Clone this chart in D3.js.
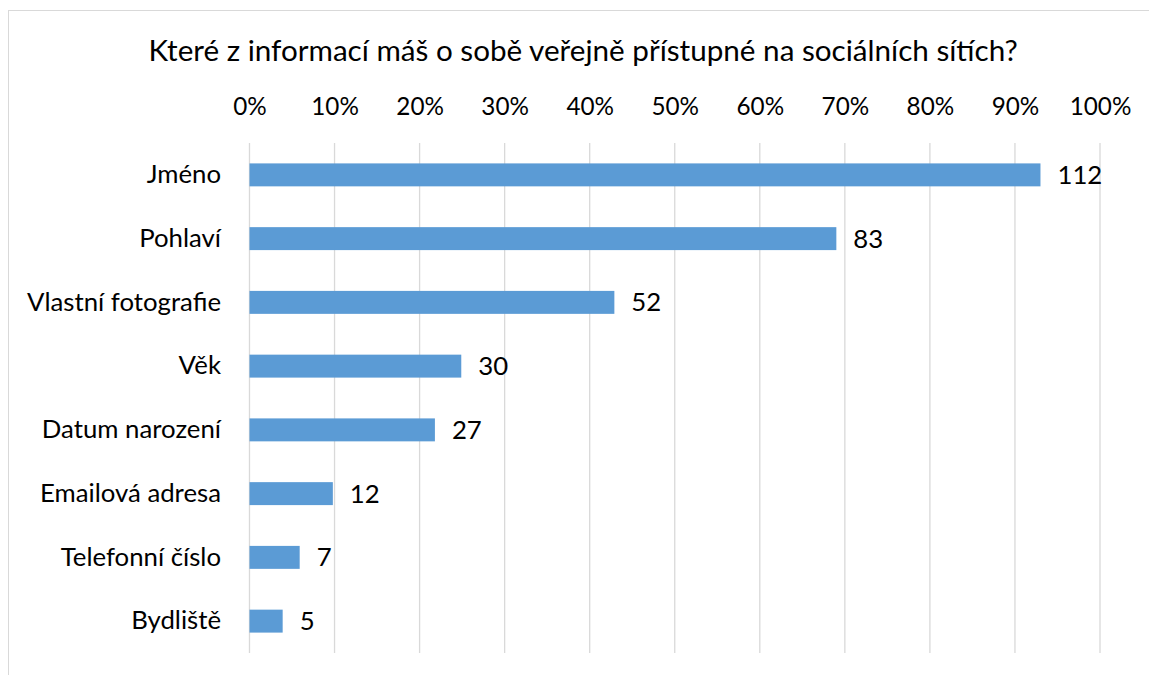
<!DOCTYPE html>
<html>
<head>
<meta charset="utf-8">
<script src="https://cdnjs.cloudflare.com/ajax/libs/d3/7.8.5/d3.min.js"></script>
<style>
  body { margin: 0; background: #fff; }
</style>
</head>
<body>
<div id="chart"></div>
<script>
var title = "Které z informací máš o sobě veřejně přístupné na sociálních sítích?"
var categories = ["Jméno", "Pohlaví", "Vlastní fotografie", "Věk", "Datum narození", "Emailová adresa", "Telefonní číslo", "Bydliště"]
// counts shown as labels, bar lengths are the shares
var counts = [112, 83, 52, 30, 27, 12, 7, 5]
var shares = [0.930, 0.690, 0.429, 0.249, 0.218, 0.098, 0.059, 0.039]
var tickValues = [0, 0.1, 0.2, 0.3, 0.4, 0.5, 0.6, 0.7, 0.8, 0.9, 1]

var width = 1149, height = 675
var FONT = "Lato, 'Open Sans', sans-serif"

var svg = d3.select("#chart")
  .append("svg")
  .attr("width", width)
  .attr("height", height)

svg.append("rect")
  .attr("width", width).attr("height", height)
  .attr("fill", "#fff")

// chart border (right and bottom edges run off the picture)
svg.append("rect")
  .attr("x", 8.5).attr("y", 10.5)
  .attr("width", 1200).attr("height", 700)
  .attr("fill", "none")
  .attr("stroke", "#d9d9d9")
  .attr("stroke-width", 1)

// font size that makes a string a given width
function fitSize(txt, target) {
  var t = svg.append("text").style("font-family", FONT).style("font-size", "100px").text(txt)
  var w = t.node().getComputedTextLength()
  t.remove()
  return 100 * target / w
}

var titleSize = fitSize(title, 870)
var labelSize = fitSize("Vlastní fotografie", 194)
var tickSize = fitSize("100%", 61.7)

var x = d3.scaleLinear()
  .domain([0, 1])
  .range([249.5, 1100])

var y = d3.scaleBand()
  .domain(categories)
  .range([143, 653])
  .paddingInner(0.64)
  .paddingOuter(0.32)

// gridlines
svg.append("g")
  .selectAll("line")
  .data(tickValues)
  .join("line")
  .attr("x1", d => x(d)).attr("x2", d => x(d))
  .attr("y1", 143).attr("y2", 653)
  .attr("stroke", "#d9d9d9")
  .attr("stroke-width", 1.3)

// top axis labels
var xAxis = svg.append("g")
  .attr("transform", "translate(0,115)")
  .call(d3.axisTop(x).tickValues(tickValues).tickFormat(d3.format(".0%")).tickSize(0).tickPadding(0))
xAxis.select(".domain").remove()
xAxis.selectAll("text")
  .style("font-family", FONT)
  .style("font-size", tickSize + "px")
  .attr("fill", "#000")
  .attr("dy", 0)

// category labels
var yAxis = svg.append("g")
  .attr("transform", "translate(249.5,0)")
  .call(d3.axisLeft(y).tickSize(0).tickPadding(28.5))
yAxis.select(".domain").remove()
yAxis.selectAll("text")
  .style("font-family", FONT)
  .style("font-size", labelSize + "px")
  .attr("fill", "#000")

var rows = categories.map((c, i) => ({cat: c, share: shares[i], count: counts[i]}))

// bars
svg.append("g")
  .selectAll("rect")
  .data(rows)
  .join("rect")
  .attr("x", x(0))
  .attr("y", d => y(d.cat))
  .attr("width", d => x(d.share) - x(0))
  .attr("height", y.bandwidth())
  .attr("fill", "#5b9bd5")

// value labels
svg.append("g")
  .selectAll("text")
  .data(rows)
  .join("text")
  .attr("x", d => x(d.share) + 17)
  .attr("y", d => y(d.cat) + y.bandwidth() / 2)
  .attr("dy", "0.35em")
  .style("font-family", FONT)
  .style("font-size", labelSize + "px")
  .attr("fill", "#000")
  .text(d => d.count)

// title
svg.append("text")
  .attr("x", 583.2)
  .attr("y", 61)
  .attr("text-anchor", "middle")
  .style("font-family", FONT)
  .style("font-size", titleSize + "px")
  .attr("fill", "#000")
  .text(title)
</script>
</body>
</html>
